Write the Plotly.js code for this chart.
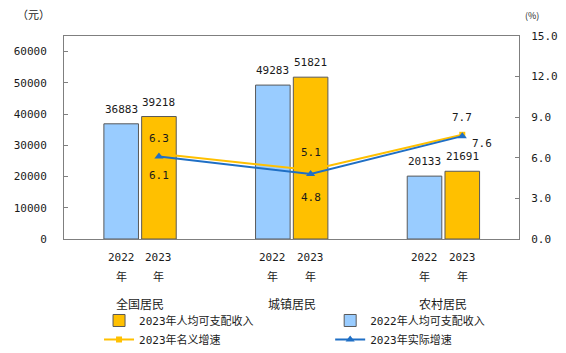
<!DOCTYPE html>
<html>
<head>
<meta charset="utf-8">
<script src="https://cdn.plot.ly/plotly-3.0.1.min.js"></script>
<style>html,body{margin:0;padding:0;background:#fff}#chart{width:566px;height:353px}</style>
</head>
<body>
<div id="chart"></div>
<script>
const categories = ['全国居民', '城镇居民', '农村居民'];
const income2022 = [36883, 49283, 20133];
const income2023 = [39218, 51821, 21691];
const nominalGrowth = [6.3, 5.1, 7.7];
const realGrowth = [6.1, 4.8, 7.6];
const yearNames = ['2022', '2023'];
const yearSuffix = '年';
const leftTicks = [0, 10000, 20000, 30000, 40000, 50000, 60000];
const rightTicks = [0, 3, 6, 9, 12, 15];
const seriesNames = ['2022年人均可支配收入', '2023年人均可支配收入', '2023年名义增速', '2023年实际增速'];

const NUM = '"DejaVu Sans Mono", "Noto Sans CJK SC", monospace';
const CJK = '"Noto Sans CJK SC", "DejaVu Sans", sans-serif';
const TXT = '#1a1a1a';
const BLUE = '#99CCFF', GOLD = '#FFC000', LINEBLUE = '#1F6FC5';
const W = 0.228, OFF22 = -0.237, OFF23 = 0.012;
const idx = categories.map((c, i) => i);
const c22 = idx.map(i => i + OFF22 + W / 2);
const c23 = idx.map(i => i + OFF23 + W / 2);
// label offsets (px) for growth labels
const nomShiftY = [15, 17, 17];
const realShiftY = [-19, -23, -7];
const realShiftX = [0, 0, 20];

const traces = [
  {type: 'bar', name: seriesNames[0], x: idx, y: income2022, width: W, offset: OFF22, legend: 'legend2',
   marker: {color: BLUE, line: {color: '#595959', width: 1}}, legendrank: 1, hoverinfo: 'skip'},
  {type: 'bar', name: seriesNames[1], x: idx, y: income2023, width: W, offset: OFF23, legend: 'legend',
   marker: {color: GOLD, line: {color: '#595959', width: 1}}, legendrank: 1, hoverinfo: 'skip'},
  {type: 'scatter', mode: 'lines+markers', name: seriesNames[2], x: c23, y: nominalGrowth, yaxis: 'y2',
   legend: 'legend', line: {color: GOLD, width: 2}, marker: {symbol: 'square', size: 6, color: GOLD},
   legendrank: 2, hoverinfo: 'skip'},
  {type: 'scatter', mode: 'lines+markers', name: seriesNames[3], x: c23, y: realGrowth, yaxis: 'y2',
   legend: 'legend2', line: {color: LINEBLUE, width: 2}, marker: {symbol: 'triangle-up', size: 8, color: LINEBLUE},
   legendrank: 2, hoverinfo: 'skip'}
];

const annotations = [];
idx.forEach(i => {
  annotations.push({x: c22[i], y: income2022[i], xref: 'x', yref: 'y', text: String(income2022[i]),
    showarrow: false, yanchor: 'bottom', yshift: 6, font: {family: NUM, size: 11, color: TXT}});
  annotations.push({x: c23[i], y: income2023[i], xref: 'x', yref: 'y', text: String(income2023[i]),
    showarrow: false, yanchor: 'bottom', yshift: 6, font: {family: NUM, size: 11, color: TXT}});
  annotations.push({x: c23[i], y: nominalGrowth[i], xref: 'x', yref: 'y2', text: nominalGrowth[i].toFixed(1),
    showarrow: false, yanchor: 'middle', yshift: nomShiftY[i], font: {family: NUM, size: 11, color: TXT}});
  annotations.push({x: c23[i], y: realGrowth[i], xref: 'x', yref: 'y2', text: realGrowth[i].toFixed(1),
    showarrow: false, yanchor: 'middle', yshift: realShiftY[i], xshift: realShiftX[i],
    font: {family: NUM, size: 11, color: TXT}});
  [c22[i], c23[i]].forEach((xc, k) => {
    annotations.push({x: xc, y: 0, xref: 'x', yref: 'paper', text: yearNames[k], showarrow: false,
      yanchor: 'middle', yshift: -18, font: {family: NUM, size: 11, color: TXT}});
    annotations.push({x: xc, y: 0, xref: 'x', yref: 'paper', text: yearSuffix, showarrow: false,
      yanchor: 'middle', yshift: -37, font: {family: CJK, size: 11, color: TXT}});
  });
  annotations.push({x: i, y: 0, xref: 'x', yref: 'paper', text: categories[i], showarrow: false,
    yanchor: 'middle', yshift: -64, font: {family: CJK, size: 12, color: TXT}});
});
annotations.push({x: -0.068, y: 1.108, xref: 'paper', yref: 'paper', text: '（元）', showarrow: false,
  xanchor: 'center', yanchor: 'middle', font: {family: CJK, size: 11, color: TXT}});
annotations.push({x: 1.0286, y: 1.103, xref: 'paper', yref: 'paper', text: '(%)', showarrow: false,
  xanchor: 'center', yanchor: 'middle', font: {family: CJK, size: 9, color: TXT}});

const legendBase = {orientation: 'v', xanchor: 'left', y: -0.33, yanchor: 'top', traceorder: 'normal',
  tracegroupgap: 0, font: {family: NUM, size: 11, color: TXT}, bgcolor: 'rgba(0,0,0,0)', borderwidth: 0};

const layout = {
  width: 566, height: 353,
  margin: {l: 64, r: 47, t: 36, b: 114, autoexpand: false},
  paper_bgcolor: '#fff', plot_bgcolor: '#fff',
  barmode: 'overlay',
  showlegend: true,
  legend: Object.assign({}, legendBase, {x: 0.077}),
  legend2: Object.assign({}, legendBase, {x: 0.585}),
  xaxis: {range: [-0.5, 2.5], showticklabels: false, ticks: '', showgrid: false, zeroline: false,
    showline: true, linecolor: '#7f7f7f', linewidth: 1, mirror: true, fixedrange: true},
  yaxis: {range: [0, 65000], tickvals: leftTicks, ticktext: leftTicks.map(String), ticks: 'inside',
    ticklen: 4, tickcolor: '#7f7f7f', showgrid: false, zeroline: false, showline: true,
    linecolor: '#7f7f7f', linewidth: 1, ticklabelstandoff: 14,
    tickfont: {family: NUM, size: 11, color: TXT}},
  yaxis2: {overlaying: 'y', side: 'right', range: [0, 15], tickvals: rightTicks,
    ticktext: rightTicks.map(v => v.toFixed(1)), ticks: 'inside', ticklen: 4, tickcolor: '#7f7f7f',
    showgrid: false, zeroline: false, showline: true, linecolor: '#7f7f7f', linewidth: 1,
    ticklabelstandoff: 9, tickfont: {family: NUM, size: 11, color: TXT}},
  annotations: annotations
};

Plotly.newPlot('chart', traces, layout, {staticPlot: true, displayModeBar: false});
</script>
</body>
</html>
